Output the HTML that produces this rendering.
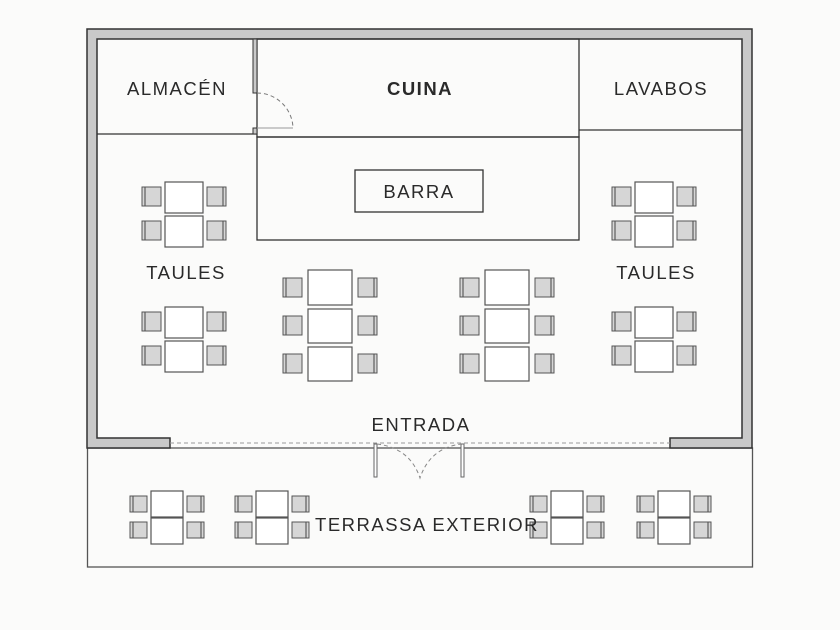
<!DOCTYPE html>
<html><head><meta charset="utf-8"><style>
html,body{margin:0;padding:0;background:#fbfbfa;}
svg{display:block}
text{font-family:"Liberation Sans",sans-serif;fill:#2a2a2a;letter-spacing:1.5px}
</style></head><body>
<svg width="840" height="630" viewBox="0 0 840 630" xmlns="http://www.w3.org/2000/svg">
<rect width="840" height="630" fill="#fbfbfa"/>
<!-- terrace -->
<rect x="87.5" y="448" width="665" height="119" fill="none" stroke="#555" stroke-width="1.3"/>
<!-- outer walls -->
<path d="M87,448 L87,29 L752,29 L752,448 L670,448 L670,438 L742,438 L742,39 L97,39 L97,438 L170,438 L170,448 Z" fill="#c9c9c9" stroke="#333" stroke-width="1.5"/>
<!-- rooms -->
<g fill="none" stroke="#333" stroke-width="1.3">
<line x1="97" y1="134" x2="257" y2="134"/>
<rect x="257" y="39" width="322" height="98"/>
<line x1="579" y1="130" x2="742" y2="130"/>
<rect x="257" y="137" width="322" height="103"/>
<rect x="355" y="170" width="128" height="42"/>
</g>
<rect x="253" y="39" width="4" height="54" fill="#c9c9c9" stroke="#333" stroke-width="1"/>
<rect x="253" y="128" width="4" height="6" fill="#c9c9c9" stroke="#333" stroke-width="1"/>
<line x1="257" y1="128" x2="293" y2="128" stroke="#999" stroke-width="1"/>
<path d="M257,93 A36,36 0 0 1 293,128" fill="none" stroke="#777" stroke-width="1" stroke-dasharray="4,3"/>
<!-- entrance -->
<line x1="170" y1="443" x2="670" y2="443" stroke="#999" stroke-width="1" stroke-dasharray="4,3"/>
<rect x="374" y="444" width="3" height="33" fill="#fff" stroke="#666" stroke-width="1"/>
<rect x="461" y="444" width="3" height="33" fill="#fff" stroke="#666" stroke-width="1"/>
<path d="M377,444 Q410,448 420,478 Q430,448 461,444" fill="none" stroke="#888" stroke-width="1" stroke-dasharray="4,3"/>
<defs>
<g id="cl"><rect x="0" y="0" width="19" height="19" fill="#d6d6d6" stroke="#555" stroke-width="1"/><line x1="3" y1="0.5" x2="3" y2="18.5" stroke="#444" stroke-width="1"/></g>
<g id="cr"><rect x="0" y="0" width="19" height="19" fill="#d6d6d6" stroke="#555" stroke-width="1"/><line x1="16" y1="0.5" x2="16" y2="18.5" stroke="#444" stroke-width="1"/></g>
<g id="sl"><rect x="0" y="0" width="17" height="16" fill="#d6d6d6" stroke="#555" stroke-width="1"/><line x1="3" y1="0.5" x2="3" y2="15.5" stroke="#444" stroke-width="1"/></g>
<g id="sr"><rect x="0" y="0" width="17" height="16" fill="#d6d6d6" stroke="#555" stroke-width="1"/><line x1="14" y1="0.5" x2="14" y2="15.5" stroke="#444" stroke-width="1"/></g>
<g id="g2">
<rect x="0" y="0" width="38" height="31" fill="#fff" stroke="#555" stroke-width="1.2"/>
<rect x="0" y="34" width="38" height="31" fill="#fff" stroke="#555" stroke-width="1.2"/>
<use href="#cl" x="-23" y="5"/><use href="#cl" x="-23" y="39"/>
<use href="#cr" x="42" y="5"/><use href="#cr" x="42" y="39"/>
</g>
<g id="g3">
<rect x="0" y="0" width="44" height="35" fill="#fff" stroke="#555" stroke-width="1.2"/>
<rect x="0" y="39" width="44" height="34" fill="#fff" stroke="#555" stroke-width="1.2"/>
<rect x="0" y="77" width="44" height="34" fill="#fff" stroke="#555" stroke-width="1.2"/>
<use href="#cl" x="-25" y="8"/><use href="#cl" x="-25" y="46"/><use href="#cl" x="-25" y="84"/>
<use href="#cr" x="50" y="8"/><use href="#cr" x="50" y="46"/><use href="#cr" x="50" y="84"/>
</g>
<g id="gt">
<rect x="0" y="0" width="32" height="26" fill="#fff" stroke="#555" stroke-width="1.2"/>
<rect x="0" y="27" width="32" height="26" fill="#fff" stroke="#555" stroke-width="1.2"/>
<use href="#sl" x="-21" y="5"/><use href="#sl" x="-21" y="31"/>
<use href="#sr" x="36" y="5"/><use href="#sr" x="36" y="31"/>
</g>
</defs>
<use href="#g2" x="165" y="182"/>
<use href="#g2" x="165" y="307"/>
<use href="#g2" x="635" y="182"/>
<use href="#g2" x="635" y="307"/>
<use href="#g3" x="308" y="270"/>
<use href="#g3" x="485" y="270"/>
<use href="#gt" x="151" y="491"/>
<use href="#gt" x="256" y="491"/>
<use href="#gt" x="551" y="491"/>
<use href="#gt" x="658" y="491"/>
<g font-size="18.5" text-anchor="middle">
<text x="177" y="95">ALMACÉN</text>
<text x="420" y="95" font-weight="bold">CUINA</text>
<text x="661" y="95">LAVABOS</text>
<text x="419" y="198">BARRA</text>
<text x="186" y="279">TAULES</text>
<text x="656" y="279">TAULES</text>
<text x="421" y="431">ENTRADA</text>
<text x="427" y="531">TERRASSA EXTERIOR</text>
</g>
</svg>
</body></html>
